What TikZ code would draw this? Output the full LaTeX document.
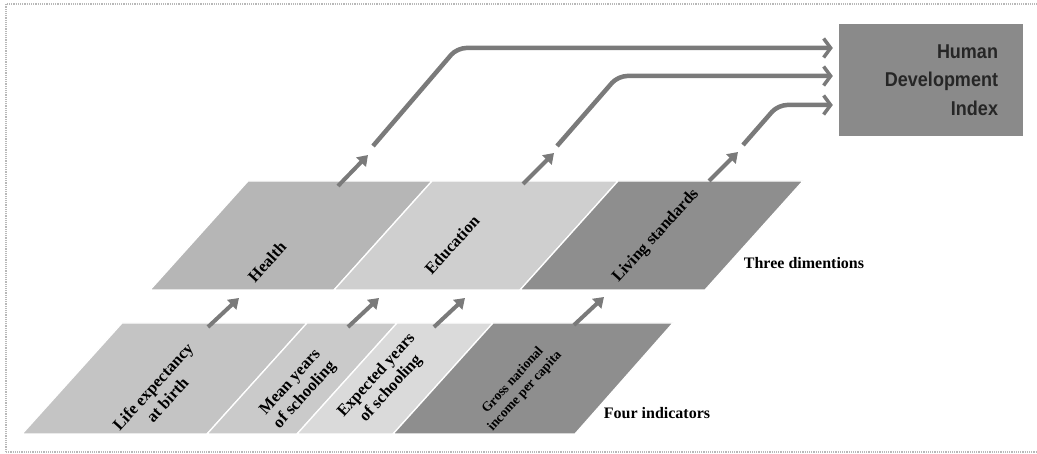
\documentclass[tikz,border=0pt]{standalone}
\usepackage{fontspec}
\setmainfont{Liberation Serif}
\newfontfamily\hdifont[FakeStretch=0.9]{Liberation Sans}
\usetikzlibrary{arrows.meta}
\definecolor{cLife}{HTML}{C4C4C4}
\definecolor{cMean}{HTML}{CACACA}
\definecolor{cExp}{HTML}{DADADA}
\definecolor{cGross}{HTML}{8E8E8E}
\definecolor{cHealth}{HTML}{B6B6B6}
\definecolor{cEdu}{HTML}{CFCFCF}
\definecolor{cLiving}{HTML}{8E8E8E}
\definecolor{cHdi}{HTML}{8A8A8A}
\definecolor{cLine}{HTML}{7A7A7A}
\definecolor{cFrame}{HTML}{B8B8B8}
\begin{document}
\begin{tikzpicture}[x=1pt,y=-1pt,
  panel/.style={draw=white,line width=1.3pt,line join=round},
  lab/.style={font=\bfseries\fontsize{16.5}{19.5}\selectfont,align=center,rotate=47.8,text=black,inner sep=0pt},
  smalllab/.style={lab,font=\bfseries\fontsize{13.5}{16}\selectfont},
  sidelab/.style={font=\bfseries\fontsize{16}{18}\selectfont,text=black,inner sep=0pt},
  sarrow/.style={draw=cLine,line width=4pt,-{Triangle[length=10pt,width=13pt]}},
  larrow/.style={draw=cLine,line width=4.5pt,rounded corners=9pt,shorten >=6pt,-{Straight Barb[length=7pt,width=19pt,line width=3.5pt]}},
  hdibox/.style={fill=cHdi,minimum width=184pt,minimum height=112pt,text width=134pt,inner xsep=25pt,align=right,
     font=\hdifont\bfseries\fontsize{20}{28.5}\selectfont,text=black!85}
]
\useasboundingbox (0,0) rectangle (1037,454);
% frame
\draw[cFrame,line width=1.2pt,densely dotted] (6,452) -- (6,4) -- (1037,4);
\draw[cFrame,line width=1.2pt,densely dotted] (6,452) -- (1037,452);

% four indicators
\path[panel,fill=cLife]  (22,434) -- (122,323) -- (307,323) -- (207,434) -- cycle;
\path[panel,fill=cMean]  (207,434) -- (307,323) -- (397,323) -- (297,434) -- cycle;
\path[panel,fill=cExp]   (297,434) -- (397,323) -- (493,323) -- (393,434) -- cycle;
\path[panel,fill=cGross] (393,434) -- (493,323) -- (673,323) -- (575,434) -- cycle;

% three dimensions
\path[panel,fill=cHealth] (150,290) -- (248,181) -- (432,181) -- (334,290) -- cycle;
\path[panel,fill=cEdu]    (334,290) -- (432,181) -- (618,181) -- (520,290) -- cycle;
\path[panel,fill=cLiving] (520,290) -- (618,181) -- (803,181) -- (705,290) -- cycle;

% labels
\node[lab] (life) at (160,393) {Life expectancy\\at birth};
\node[lab] (mean) at (298,389) {Mean years\\of schooling};
\node[lab] (expd) at (384,382) {Expected years\\of schooling};
\node[smalllab] (gross) at (519,386) {Gross national\\income per capita};
\node[lab] (health) at (267,262) {Health};
\node[lab] (edu) at (452,245) {Education};
\node[lab] (living) at (656,236) {Living standards};
\node[sidelab] (three) at (804,263) {Three dimentions};
\node[sidelab] (four) at (657,413) {Four indicators};

% HDI box
\node[hdibox] (hdi) at (931,80) {Human\\Development\\Index};

% short arrows: indicators -> dimensions
\coordinate (i1s) at (208,327); \coordinate (i1e) at (239,298);
\coordinate (i2s) at (348,327); \coordinate (i2e) at (379,298);
\coordinate (i3s) at (434,327); \coordinate (i3e) at (465,298);
\coordinate (i4s) at (574,325); \coordinate (i4e) at (604,297);
\draw[sarrow] (i1s) -- (i1e);
\draw[sarrow] (i2s) -- (i2e);
\draw[sarrow] (i3s) -- (i3e);
\draw[sarrow] (i4s) -- (i4e);

% short arrows: dimensions -> up
\coordinate (d1s) at (338,186); \coordinate (d1e) at (368,155);
\coordinate (d2s) at (523,184); \coordinate (d2e) at (554,153);
\coordinate (d3s) at (709,181); \coordinate (d3e) at (738,152);
\draw[sarrow] (d1s) -- (d1e);
\draw[sarrow] (d2s) -- (d2e);
\draw[sarrow] (d3s) -- (d3e);

% long connectors to HDI
\coordinate (h1s) at (373,146); \coordinate (h1b) at (457,48);
\coordinate (h2s) at (557,146); \coordinate (h2b) at (618,76);
\coordinate (h3s) at (743,145); \coordinate (h3b) at (778,105);
\draw[larrow] (h1s) -- (h1b) -- (h1b -| hdi.west);
\draw[larrow] (h2s) -- (h2b) -- (h2b -| hdi.west);
\draw[larrow] (h3s) -- (h3b) -- (h3b -| hdi.west);
\end{tikzpicture}
\end{document}
